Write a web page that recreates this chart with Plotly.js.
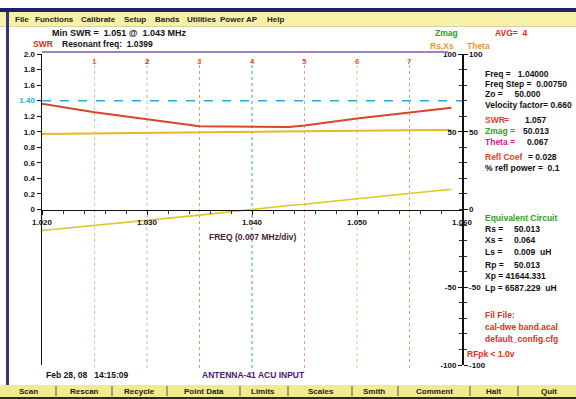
<!DOCTYPE html>
<html>
<head>
<meta charset="utf-8">
<script src="https://cdn.plot.ly/plotly-3.0.1.min.js"></script>
<style>html,body{margin:0;padding:0;background:#fff;}#chart{width:576px;height:399px;}</style>
</head>
<body>
<div id="chart"></div>
<script>
// ---- data ----
const freq  = [1.020, 1.025, 1.030, 1.035, 1.0435, 1.045, 1.050, 1.055, 1.059];
const swr   = [1.36, 1.25, 1.16, 1.07, 1.06, 1.08, 1.17, 1.25, 1.31];
const zmag  = [48.6, 49.0, 49.4, 49.8, 50.2, 50.3, 50.6, 50.9, 51.1];
const theta = [-13.5, -10.3, -7.0, -3.6, 2.6, 3.4, 6.9, 10.3, 13.0];
const swrLimit = 1.4;

const xTickVals = [1.020, 1.030, 1.040, 1.050, 1.060];
const xTickText = ["1.020", "1.030", "1.040", "1.050", "1.060"];
const swrTickVals = [0, 0.2, 0.4, 0.6, 0.8, 1.0, 1.2, 1.4, 1.6, 1.8, 2.0];
const swrTickText = ["0", "0.2", "0.4", "0.6", "0.8", "1.0", "1.2", "1.40", "1.6", "1.8", "2.0"];
const rightTickVals = [-100, -50, 0, 50, 100];
const rightTickText = ["-100", "-50", "0", "50", "100"];
const rightInnerVals = [-100, -50, 50, 100];
const rightInnerText = ["-100", "-50", "50", "100"];

const markerFreq  = [1.025, 1.030, 1.035, 1.040, 1.045, 1.050, 1.055];
const markerLabel = ["1", "2", "3", "4", "5", "6", "7"];

const menuItems = ["File", "Functions", "Calibrate", "Setup", "Bands", "Utilities", "Power AP", "Help"];
const buttons   = ["Scan", "Rescan", "Recycle", "Point Data", "Limits", "Scales", "Smith", "Comment", "Halt", "Quit"];

// ---- geometry helpers (pixel -> paper) ----
const L = 42, R = 114, T = 54, B = 34;
const W = 576 - L - R, H = 399 - T - B;
const X = px => (px - L) / W;
const Y = py => (399 - B - py) / H;
const FONT = 'Arial, "Liberation Sans", sans-serif';

const annotations = [];
function txt(text, px, py, color, size, anchor) {
  annotations.push({
    text: '<b>' + text + '</b>', xref: 'paper', yref: 'paper',
    x: X(px), y: Y(py), xanchor: anchor || 'left', yanchor: 'middle',
    showarrow: false, font: {family: FONT, size: size || 8.5, color: color || '#111'}
  });
}

// menu bar
const menuX = [13, 33, 79, 122, 153, 185, 218, 265];
menuItems.forEach((m, i) => txt(m, menuX[i], 19.5, '#222', 8));

// header texts
txt('Min SWR =  1.051 @  1.043 MHz', 50, 33, '#111', 9);
txt('SWR', 31, 44, '#e02a1a', 8.5);
txt('Resonant freq:  1.0399', 60, 44, '#111', 8.5);
txt('Zmag', 433, 33, '#2e9a1e', 8.5);
txt('AVG=  4', 493, 33, '#e02a1a', 8.5);
txt('Rs,Xs', 428, 46, '#e8962a', 8.5);
txt('Theta', 465, 46, '#e8962a', 8.5);

// marker numbers
markerFreq.forEach((f, i) => {
  annotations.push({
    text: '<b>' + markerLabel[i] + '</b>', xref: 'x', yref: 'paper',
    x: f, y: Y(61), xanchor: 'center', yanchor: 'middle', showarrow: false,
    font: {family: FONT, size: 8, color: i === 1 ? '#d8281a' : '#e0602a'}
  });
});

// axis title
txt('FREQ (0.007 MHz/div)', 253, 237, '#4a1a3a', 8.5, 'center');

// right info panel
const P = 483;
txt('Freq =   1.04000', P, 74);
txt('Freq Step =  0.00750', P, 84);
txt('Zo =     50.000', P, 94);
txt('Velocity factor= 0.660', P, 105);
txt('SWR', P, 120, '#e8402a'); txt('=', 502, 120, '#e8402a'); txt('1.057', 523, 120);
txt('Zmag =', P, 131, '#2ea01e'); txt('50.013', 521, 131);
txt('Theta =', P, 142, '#d0208a'); txt('0.067', 525, 142);
txt('Refl Coef', P, 157, '#e8402a'); txt('= 0.028', 526, 157);
txt('% refl power =  0.1', P, 168);

txt('Equivalent Circuit', P, 218, '#2ea01e');
txt('Rs =', P, 229); txt('50.013', 512, 229);
txt('Xs =', P, 240); txt('0.064', 512, 240);
txt('Ls =', P, 252); txt('0.009  uH', 512, 252);
txt('Rp =', P, 265); txt('50.013', 512, 265);
txt('Xp = 41644.331', P, 276);
txt('Lp = 6587.229  uH', P, 288);
txt('Fil File:', P, 315, '#e0301a');
txt('cal-dwe band.acal', P, 327, '#e0301a');
txt('default_config.cfg', P, 339, '#e0301a');
txt('RFpk < 1.0v', 465, 354, '#e0301a');

// bottom texts
txt('Feb 28, 08   14:15:09', 44, 375, '#111', 8.5);
txt('ANTENNA-41 ACU INPUT', 200, 375, '#4a1a6a', 8.5);

// button bar
const btnX = [28, 84, 139, 204, 263, 321, 374, 434, 493, 549];
buttons.forEach((b, i) => txt(b, btnX[i], 391, '#222', 8, 'center'));

// ---- shapes ----
const shapes = [];
function rect(x0, y0, x1, y1, color, layer) {
  shapes.push({type: 'rect', xref: 'paper', yref: 'paper', x0: X(x0), x1: X(x1), y0: Y(y0), y1: Y(y1),
    fillcolor: color, line: {width: 0}, layer: layer || 'below'});
}
rect(0, 8, 576, 12, '#1e2160');
rect(0, 12, 576, 26, '#f7f1a8');
rect(0, 26, 576, 27, '#d8d0a0');
rect(6, 12, 9, 386, '#3b3180');
rect(0, 385, 576, 397, '#f2ea90');
rect(0, 397, 576, 399, '#2a2a2a');
const sepX = [56, 112, 167, 240, 288, 352, 398, 470, 518];
sepX.forEach(s => shapes.push({type: 'line', xref: 'paper', yref: 'paper', x0: X(s), x1: X(s),
  y0: Y(386), y1: Y(396), line: {color: '#555', width: 1}}));

// top purple border of plot
shapes.push({type: 'line', xref: 'paper', yref: 'paper', x0: X(42), x1: X(448), y0: Y(52), y1: Y(52),
  line: {color: '#a080c0', width: 2}});

// marker lines
const markerColors = ['#cfc0a0', '#c8b8a8', '#e09a6a', '#3aa0a0', '#e8a080', '#d8c890', '#e09a6a'];
markerFreq.forEach((f, i) => shapes.push({type: 'line', xref: 'x', yref: 'paper', x0: f, x1: f,
  y0: Y(368), y1: Y(56), line: {color: markerColors[i], width: 1, dash: 'dot'}, layer: 'below'}));

// SWR limit line
shapes.push({type: 'line', xref: 'paper', yref: 'y', x0: 0, x1: 1, y0: swrLimit, y1: swrLimit,
  line: {color: '#2aa8e0', width: 1.5, dash: 'dash'}});

// ---- traces ----
const traces = [
  {x: freq, y: zmag, yaxis: 'y2', mode: 'lines', line: {color: '#e8b828', width: 2}, hoverinfo: 'skip'},
  {x: freq, y: theta, yaxis: 'y2', mode: 'lines', line: {color: '#dcc81e', width: 1.6}, hoverinfo: 'skip'},
  {x: freq, y: swr, yaxis: 'y', mode: 'lines', line: {color: '#d8462a', width: 2}, hoverinfo: 'skip'},
  {x: freq, y: freq.map(() => null), yaxis: 'y3', mode: 'lines', hoverinfo: 'skip'}
];

const tickFont = {family: FONT, size: 8, color: '#111', weight: 'bold'};
const layout = {
  width: 576, height: 399,
  margin: {l: L, r: R, t: T, b: B, pad: 0},
  paper_bgcolor: '#ffffff', plot_bgcolor: 'rgba(0,0,0,0)',
  showlegend: false,
  font: {family: FONT},
  xaxis: {
    range: [1.020, 1.060], anchor: 'free', position: 0.5,
    tickvals: xTickVals, ticktext: xTickText, tickfont: tickFont,
    showline: true, linecolor: '#111', linewidth: 1.5, showgrid: false, zeroline: false,
    ticks: 'outside', ticklen: 4, tickcolor: '#111',
    minor: {dtick: 0.002, ticks: 'outside', ticklen: 3, tickcolor: '#333', showgrid: false}
  },
  yaxis: {
    range: [-2, 2], tickvals: swrTickVals,
    ticktext: swrTickText.map(t => t === '1.40' ? '<span style="color:#2aa8e0">1.40</span>' : t),
    tickfont: tickFont, showline: true, linecolor: '#111', linewidth: 1.5,
    showgrid: false, zeroline: false, ticks: 'outside', ticklen: 4, tickcolor: '#111'
  },
  yaxis2: {
    overlaying: 'y', side: 'right', range: [-100, 100],
    tickvals: rightTickVals, ticktext: rightTickText, tickfont: tickFont,
    showline: true, linecolor: '#111', linewidth: 1.5, showgrid: false, zeroline: false,
    ticks: 'outside', ticklen: 4, tickcolor: '#111',
    minor: {dtick: 10, ticks: 'outside', ticklen: 3, tickcolor: '#333', showgrid: false}
  },
  yaxis3: {
    overlaying: 'y', anchor: 'free', position: 1, side: 'left', range: [-100, 100],
    tickvals: rightInnerVals, ticktext: rightInnerText, tickfont: tickFont,
    showline: false, showgrid: false, zeroline: false,
    ticks: 'outside', ticklen: 4, tickcolor: '#111',
    minor: {dtick: 10, ticks: 'outside', ticklen: 3, tickcolor: '#333', showgrid: false}
  },
  shapes: shapes,
  annotations: annotations
};

Plotly.newPlot('chart', traces, layout, {staticPlot: true, displayModeBar: false});
</script>
</body>
</html>
